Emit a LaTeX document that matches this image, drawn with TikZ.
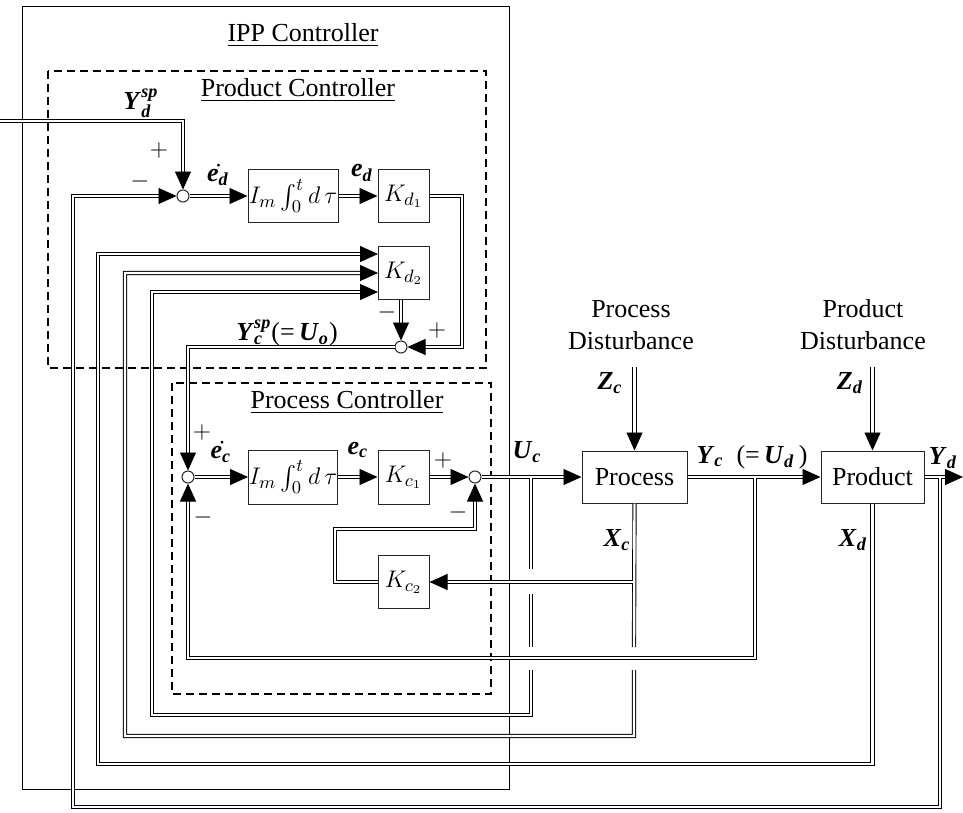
\documentclass[tikz,border=0pt]{standalone}
\usepackage{amsmath}
\usepackage{fontspec}
\setmainfont{Liberation Serif}
\usetikzlibrary{arrows.meta}
\newcommand{\bi}[1]{\textbf{\textit{#1}}}
\begin{document}
\begin{tikzpicture}[x=0.5pt,y=-0.5pt,
  every node/.style={font=\fontsize{13}{16}\selectfont},
  blk/.style={draw=black!85, line width=0.5pt, minimum width=25.5pt, minimum height=26.5pt, inner sep=0pt},
  sumc/.style={draw=black!85, circle, line width=0.5pt, minimum size=6pt, inner sep=0pt, fill=white},
  dl/.style={draw, double=white, double distance=1.2pt, line width=0.45pt},
  arr/.style={dl, -{Triangle[length=9pt,width=8pt]}},
  lbl/.style={inner sep=0pt},
  grp/.style={draw, dash pattern=on 4pt off 2.5pt, line width=0.8pt},
  frame/.style={draw, line width=0.5pt},
]
\useasboundingbox (0,0) rectangle (963,813);
% group frames
\draw[frame] (22,7) rectangle (509,789);
\draw[grp] (48,71) rectangle (486,368);
\draw[grp] (172,383) rectangle (491,694);
\node[lbl] (tipp) at (303,35) {\underline{IPP Controller}};
\node[lbl] (tprd) at (298,90) {\underline{Product Controller}};
\node[lbl] (tprc) at (347,402) {\underline{Process Controller}};

% blocks
\node[sumc] (sd) at (183,196) {};
\node[blk, minimum width=45pt] (intd) at (293,196) {$I_m\int_0^t d\,\tau$};
\node[blk] (kd1) at (403.5,196) {$K_{d_1}$};
\node[blk] (kd2) at (403.5,273) {$K_{d_2}$};
\node[sumc] (sd2) at (401,347) {};
\node[sumc] (sc) at (188,477) {};
\node[blk, minimum width=44.5pt, minimum height=27pt] (intc) at (293,477) {$I_m\int_0^t d\,\tau$};
\node[blk, minimum height=27pt] (kc1) at (403.5,477) {$K_{c_1}$};
\node[sumc] (sc2) at (475,477) {};
\node[blk] (kc2) at (403.5,582) {$K_{c_2}$};
\node[blk, minimum width=52.5pt, minimum height=26pt] (proc) at (634.5,477) {Process};
\node[blk, minimum width=51.5pt, minimum height=26pt] (prod) at (872.5,477) {Product};

% coordinates
\coordinate (ydin) at (0,121);
\coordinate (kdinA) at (378,254);
\coordinate (kdinB) at (378,273);
\coordinate (kdinC) at (378,292);
\coordinate (uctap) at (531,478.2);
\coordinate (yctap) at (755,478.2);
\coordinate (ydtap) at (940,478.2);
\coordinate (xcbr) at (632.8,582);
\coordinate (zc) at (634.5,367);
\coordinate (zd) at (872.5,367);
\coordinate (ydout) at (963,477);

% product controller
\draw[arr] (ydin) -| (sd.north);
\draw[arr] (sd) -- (intd);
\draw[arr] (intd) -- (kd1);
\draw[arr] (kd1.east) -- (462,196) |- (sd2.east);
\draw[arr] (kd2.south -| sd2) -- (sd2.north);
\draw[arr] (sd2.west) -| (sc.north);
% process controller
\draw[arr] (sc) -- (intc);
\draw[arr] (intc) -- (kc1);
\draw[arr] (kc1) -- (sc2);
\draw[arr] (kc2.west) -- (335,582) -- (335,529) -| (sc2.south);
% plant
\draw[arr] (sc2) -- (proc);
\draw[arr] (proc) -- (prod);
\draw[arr] (prod.east) -- (ydout);
\draw[arr] (zc) -- (proc.north);
\draw[arr] (zd) -- (prod.north);
% feedback lines
\draw[arr] (proc.south) -- (634,647) (634,670) -- (634,736) -- (125,736) |- (kdinB);
\draw[arr] (xcbr) -- (kc2.east);
\draw[arr] (uctap) -- (531,569) (531,594) -- (531,647) (531,670) -- (531,715) -- (152,715) |- (kdinC);
\draw[arr] (yctap) -- (755,658) -| (sc.south);
\draw[arr] (prod.south) -- (872.5,764) -- (98,764) |- (kdinA);
\draw[arr] (ydtap) -- (940,807) -- (73,807) |- (sd.west);

% labels
\node[lbl] (lydsp) at (141,103) {\bi{Y}$_{\text{\bi{d}}}^{\text{\bi{sp}}}$};
\node[lbl] (lpd1) at (159,150) {$+$};
\node[lbl] (lmd1) at (140,181) {$-$};
\node[lbl] (ledd) at (218,175) {\.{\bi{e}}$_{\text{\bi{d}}}$};
\node[lbl] (led) at (362,173) {\bi{e}$_{\text{\bi{d}}}$};
\node[lbl] (lmd2) at (387,312) {$-$};
\node[lbl] (lpd2) at (437,330) {$+$};
\node[lbl] (lycsp) at (287,333) {\bi{Y}$_{\text{\bi{c}}}^{\text{\bi{sp}}}$(=\,\bi{U}$_{\text{\bi{o}}}$)};
\node[lbl] (lpc1) at (202,432) {$+$};
\node[lbl] (lmc1) at (203,517) {$-$};
\node[lbl] (ledc) at (221,452) {\.{\bi{e}}$_{\text{\bi{c}}}$};
\node[lbl] (lec) at (358,450) {\bi{e}$_{\text{\bi{c}}}$};
\node[lbl] (lpc2) at (443,460) {$+$};
\node[lbl] (lmc2) at (458,512) {$-$};
\node[lbl] (luc) at (527,452) {\bi{U}$_{\text{\bi{c}}}$};
\node[lbl, align=center] (lpcd) at (631,325) {Process\\Disturbance};
\node[lbl, align=center] (lpdd) at (863,325) {Product\\Disturbance};
\node[lbl] (lzc) at (610,383) {\bi{Z}$_{\text{\bi{c}}}$};
\node[lbl] (lzd) at (850,383) {\bi{Z}$_{\text{\bi{d}}}$};
\node[lbl] (lyc) at (752,457) {\bi{Y}$_{\text{\bi{c}}}$\ \ (=\,\bi{U}$_{\text{\bi{d}}}$\,)};
\node[lbl] (lyd) at (943,458) {\bi{Y}$_{\text{\bi{d}}}$};
\node[lbl] (lxc) at (617,540) {\bi{X}$_{\text{\bi{c}}}$};
\node[lbl] (lxd) at (853,540) {\bi{X}$_{\text{\bi{d}}}$};
\end{tikzpicture}
\end{document}
